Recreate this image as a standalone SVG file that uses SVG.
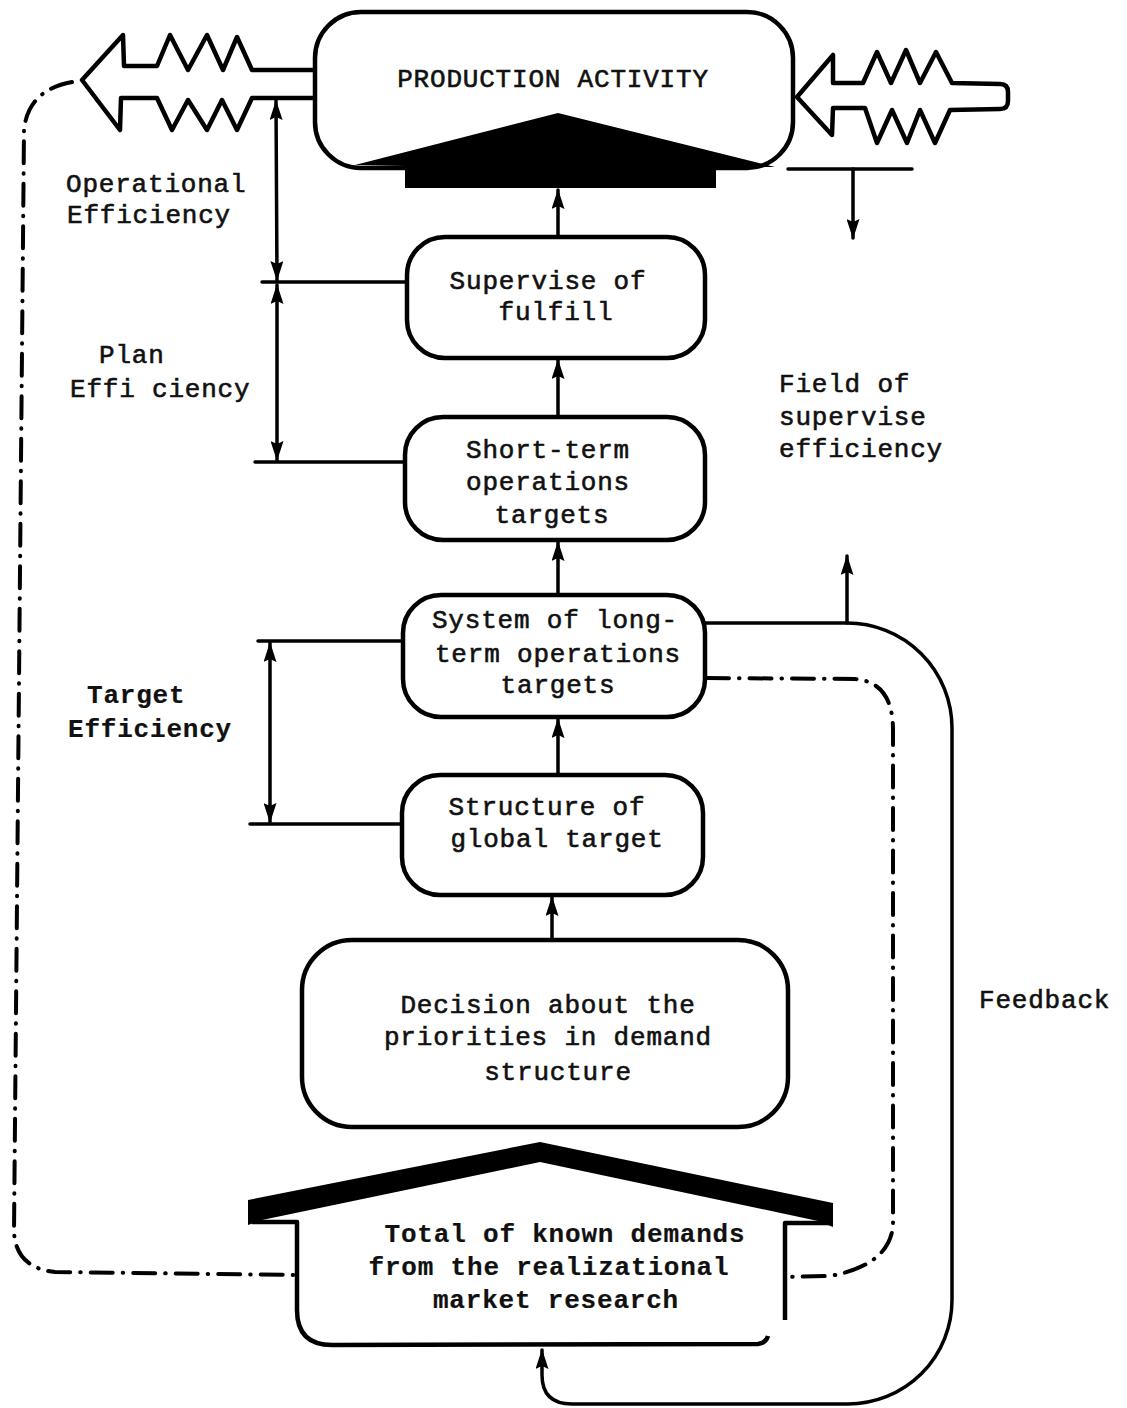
<svg xmlns="http://www.w3.org/2000/svg" width="1127" height="1408" viewBox="0 0 1127 1408">
  <style>
    .box { fill: none; stroke: #000; stroke-width: 4.5; stroke-linejoin: round; }
    .ln { fill: none; stroke: #000; stroke-width: 3.5; stroke-linecap: round; stroke-linejoin: round; }
    .dd { fill: none; stroke: #000; stroke-width: 4; stroke-linecap: round; stroke-dasharray: 22 10 0.5 10; }
    .ink { fill: #000; }
    text { font-family: "Liberation Mono", "DejaVu Sans Mono", monospace; font-size: 26px; letter-spacing: 0.8px; fill: #111; stroke: #111; stroke-width: 0.6; }
    .c { text-anchor: middle; }
    .b { font-weight: bold; stroke-width: 0.2; }
  </style>
  <defs>
    <marker id="ah" viewBox="0 0 20 13" refX="19" refY="6.5" markerWidth="20" markerHeight="13" markerUnits="userSpaceOnUse" orient="auto-start-reverse">
      <path d="M0,0 L20,6.5 L0,13 L3,6.5 z" fill="#000"/>
    </marker>
  </defs>
  <rect width="1127" height="1408" fill="#fff"/>

  <!-- Production activity with serrated input/output arrows -->
  <g id="production">
    <rect class="box" x="315" y="12" width="478" height="156" rx="46"/>
    <polygon class="ink" points="355,165 558,113 775,167 716,167 716,188 405,188 405,166"/>
    <path class="box" d="M315,70 L252,70 L237,37 L223,70 L207,35 L188,70 L170,35 L157,66 L124,66 L123,35 L82,80 L120,130 L121,98 L157,98 L172,130 L188,100 L207,130 L222,100 L237,130 L252,98 L315,98"/>
    <path class="box" d="M797,97 L833,55 L833,83 L863,83 L877,52 L891,83 L906,50 L920,83 L936,52 L952,83 L1000,84 Q1008,84 1008,92 L1008,101 Q1008,109 1000,109 L950,110 L935,143 L920,110 L907,143 L892,110 L877,143 L865,108 L833,108 L832,135 Z"/>
    <text class="c" x="553" y="87">PRODUCTION ACTIVITY</text>
  </g>

  <g id="supervise">
    <rect class="box" x="407" y="237" width="298" height="121" rx="38"/>
    <text class="c" x="548" y="289">Supervise of</text>
    <text class="c" x="556" y="320">fulfill</text>
  </g>

  <g id="short-term">
    <rect class="box" x="405" y="417" width="300" height="123" rx="38"/>
    <text class="c" x="548" y="458">Short-term</text>
    <text class="c" x="548" y="490">operations</text>
    <text class="c" x="552" y="523">targets</text>
  </g>

  <g id="long-term">
    <rect class="box" x="403" y="595" width="302" height="122" rx="38"/>
    <text class="c" x="555" y="628">System of long-</text>
    <text class="c" x="558" y="662">term operations</text>
    <text class="c" x="558" y="693">targets</text>
  </g>

  <g id="global-target">
    <rect class="box" x="402" y="775" width="301" height="120" rx="38"/>
    <text class="c" x="547" y="815">Structure of</text>
    <text class="c" x="557" y="847">global target</text>
  </g>

  <g id="decision">
    <rect class="box" x="302" y="940" width="486" height="187" rx="50"/>
    <text class="c" x="548" y="1013">Decision about the</text>
    <text class="c" x="548" y="1045">priorities in demand</text>
    <text class="c" x="558" y="1080">structure</text>
  </g>

  <g id="demands">
    <polygon class="ink" points="248,1200 540,1142 833,1203 833,1227 818,1221 540,1162 262,1220 248,1225"/>
    <path class="box" d="M252,1222 L297,1222 L297,1310 Q297,1345 332,1345 L758,1344 Q766,1343 768,1336"/>
    <path class="box" d="M830,1223 L785,1223 L785,1320"/>
    <text class="c b" x="565" y="1242">Total of known demands</text>
    <text class="c b" x="549" y="1275">from the realizational</text>
    <text class="c b" x="556" y="1308">market research</text>
  </g>

  <g id="labels">
    <text x="66" y="192">Operational</text>
    <text x="67" y="223">Efficiency</text>
    <text x="99" y="363">Plan</text>
    <text x="70" y="397">Effi ciency</text>
    <text class="b" x="87" y="703">Target</text>
    <text class="b" x="68" y="737">Efficiency</text>
    <text x="779" y="392">Field of</text>
    <text x="779" y="425">supervise</text>
    <text x="779" y="457">efficiency</text>
    <text x="979" y="1008">Feedback</text>
  </g>

  <g id="connectors">
    <!-- main upward flow -->
    <line class="ln" x1="558" y1="237" x2="558" y2="190" marker-end="url(#ah)"/>
    <line class="ln" x1="558" y1="417" x2="558" y2="360" marker-end="url(#ah)"/>
    <line class="ln" x1="558" y1="595" x2="558" y2="542" marker-end="url(#ah)"/>
    <line class="ln" x1="558" y1="775" x2="558" y2="719" marker-end="url(#ah)"/>
    <line class="ln" x1="552" y1="940" x2="552" y2="897" marker-end="url(#ah)"/>

    <!-- efficiency dimension lines -->
    <line class="ln" x1="262" y1="282" x2="407" y2="282"/>
    <line class="ln" x1="255" y1="462" x2="405" y2="462"/>
    <line class="ln" x1="258" y1="641" x2="403" y2="641"/>
    <line class="ln" x1="250" y1="824" x2="402" y2="824"/>
    <line class="ln" x1="276" y1="101" x2="277" y2="280" marker-start="url(#ah)" marker-end="url(#ah)"/>
    <line class="ln" x1="277" y1="285" x2="277" y2="460" marker-start="url(#ah)" marker-end="url(#ah)"/>
    <line class="ln" x1="270" y1="643" x2="270" y2="822" marker-start="url(#ah)" marker-end="url(#ah)"/>

    <!-- output tap below the production block -->
    <line class="ln" x1="788" y1="169" x2="912" y2="169"/>
    <line class="ln" x1="853" y1="169" x2="853" y2="238" marker-end="url(#ah)"/>

    <!-- feedback loop -->
    <path class="ln" d="M705,623 L847,623 A105,105 0 0 1 952,728 L952,1300 A104,104 0 0 1 848,1404 L572,1404 Q542,1404 542,1375 L542,1350" marker-end="url(#ah)"/>
    <line class="ln" x1="847" y1="623" x2="847" y2="556" marker-end="url(#ah)"/>

    <!-- dash-dot information paths -->
    <path class="dd" d="M72,82 Q28,90 24,130 L14,1232 Q16,1268 55,1272 L297,1275"/>
    <path class="dd" d="M707,678 L855,679 Q893,682 893,730 L893,1225 Q890,1265 830,1276 L785,1277"/>
  </g>
</svg>
